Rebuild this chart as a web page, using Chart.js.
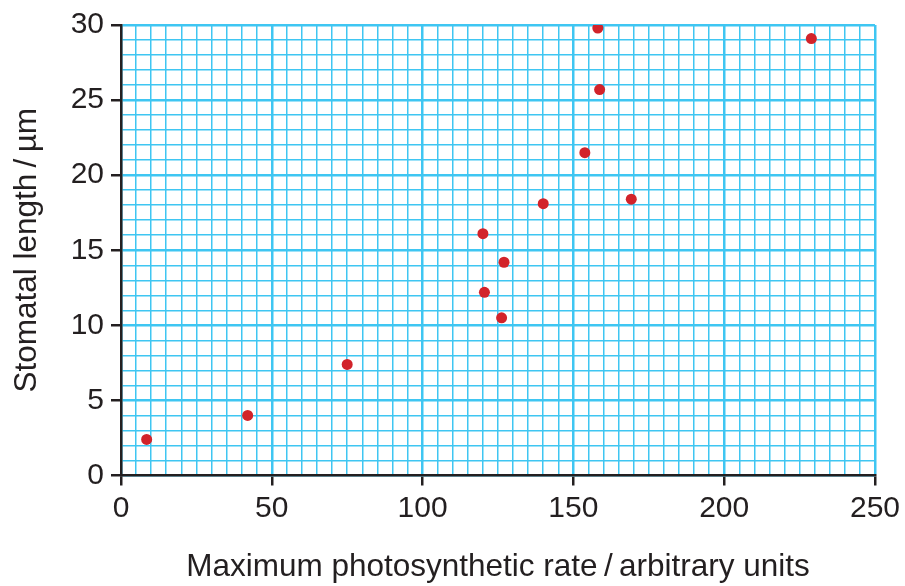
<!DOCTYPE html>
<html>
<head>
<meta charset="utf-8">
<script src="https://cdn.jsdelivr.net/npm/chart.js@4"></script>
<style>
html,body{margin:0;padding:0;background:#fff;}
#wrap{width:905px;height:586px;}
</style>
</head>
<body>
<div id="wrap"><canvas id="c" width="905" height="586"></canvas></div>
<script>
// Data
const photosyntheticRate = [8.5, 42, 75, 120, 120.5, 127, 126.2, 140, 153.8, 169.2, 158.1, 158.7, 228.9];
const stomatalLength     = [2.4, 4.0, 7.4, 16.1, 12.2, 14.2, 10.5, 18.1, 21.5, 18.4, 29.8, 25.7, 29.1];
const xLabelValues = [0, 50, 100, 150, 200, 250];
const yLabelValues = [0, 5, 10, 15, 20, 25, 30];
const xTitle = "Maximum photosynthetic rate\u2009/\u2009arbitrary units";
const yTitle = "Stomatal length\u2009/\u2009µm";

const points = photosyntheticRate.map((x, i) => ({x: x, y: stomatalLength[i]}));

const INK = '#231f20';
const GRID = '#3fc6f2';
const FONT = "'Liberation Sans', Arial, sans-serif";

new Chart(document.getElementById('c'), {
  type: 'scatter',
  data: {
    datasets: [{
      data: points,
      backgroundColor: '#d2232a',
      borderWidth: 0,
      pointRadius: 5.5,
      pointHoverRadius: 5.5
    }]
  },
  options: {
    responsive: false,
    animation: false,
    devicePixelRatio: 1,
    layout: {padding: {left: 0, top: 21, right: 28, bottom: 0}},
    plugins: {legend: {display: false}, tooltip: {enabled: false}},
    scales: {
      x: {
        type: 'linear', min: 0, max: 250,
        afterFit: s => { s.height = 110.5; },
        border: {color: INK, width: 2.5},
        grid: {
          color: GRID,
          lineWidth: c => (c.tick && (c.tick.value % 50 === 0)) ? 2.5 : 1.5,
          drawTicks: true,
          tickLength: 10,
          tickWidth: 2.5,
          tickColor: c => (c.tick && xLabelValues.includes(c.tick.value)) ? INK : 'rgba(0,0,0,0)'
        },
        ticks: {
          stepSize: 5,
          autoSkip: false,
          maxRotation: 0,
          padding: 5,
          color: INK,
          font: {family: FONT, size: 30},
          callback: v => xLabelValues.includes(v) ? String(v) : ''
        },
        title: {
          display: true, text: xTitle, color: INK,
          font: {family: FONT, size: 31.5},
          padding: {top: 0, bottom: 0}
        }
      },
      y: {
        type: 'linear', min: 0, max: 30,
        afterFit: s => { s.width = 121; },
        border: {color: INK, width: 2.5},
        grid: {
          color: GRID,
          lineWidth: c => (c.tick && (c.tick.value % 5 === 0)) ? 2.5 : 1.5,
          drawTicks: true,
          tickLength: 10,
          tickWidth: 2.5,
          tickColor: c => (c.tick && yLabelValues.includes(c.tick.value)) ? INK : 'rgba(0,0,0,0)'
        },
        ticks: {
          stepSize: 1,
          autoSkip: false,
          padding: 7,
          color: INK,
          font: {family: FONT, size: 30},
          callback: v => yLabelValues.includes(v) ? String(v) : ''
        },
        title: {
          display: true, text: yTitle, color: INK,
          font: {family: FONT, size: 31.5},
          padding: {top: 8, bottom: 0}
        }
      }
    }
  }
});
</script>
</body>
</html>
